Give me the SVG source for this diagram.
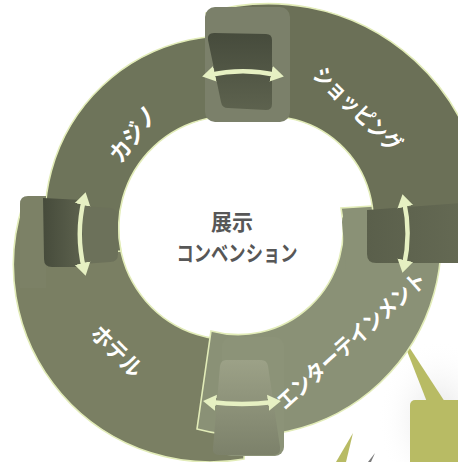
<svg xmlns="http://www.w3.org/2000/svg" width="458" height="462" viewBox="0 0 458 462">
  <defs>
    <style>
      .seg { stroke: #e2ecb8; stroke-width: 1.6; }
      .lbl { fill: #ffffff; font-family: "Noto Sans CJK JP", "Noto Sans", sans-serif; font-weight: 700; text-anchor: middle; dominant-baseline: central; }
      .ctr { fill: #575757; font-family: "Noto Sans CJK JP", "Noto Sans", sans-serif; font-weight: 700; text-anchor: middle; dominant-baseline: central; font-size: 22px; }
      .arr { fill: none; stroke: #e6f0c2; stroke-width: 4.5; marker-start: url(#ah); marker-end: url(#ah); }
      .olive { fill: #b8bb64; }
    </style>
    <marker id="ah" markerUnits="userSpaceOnUse" markerWidth="14" markerHeight="18" refX="6" refY="8" orient="auto-start-reverse" viewBox="0 0 14 16">
      <path d="M0,0 L13,8 L0,16 Z" fill="#e6f0c2"/>
    </marker>
    <linearGradient id="darkH" x1="0" y1="0" x2="1" y2="0">
      <stop offset="0" stop-color="#464b3b"/>
      <stop offset="1" stop-color="#5d624e"/>
    </linearGradient>
    <linearGradient id="darkV" x1="0" y1="0" x2="0" y2="1">
      <stop offset="0" stop-color="#464b3c"/>
      <stop offset="1" stop-color="#5d624e"/>
    </linearGradient>
    <linearGradient id="darkR" x1="0" y1="0" x2="1" y2="0">
      <stop offset="0" stop-color="#5a5f4b"/>
      <stop offset="1" stop-color="#646953"/>
    </linearGradient>
    <linearGradient id="trap" x1="0" y1="0" x2="0" y2="1">
      <stop offset="0" stop-color="#9ca187"/>
      <stop offset="1" stop-color="#7c816a"/>
    </linearGradient>
    <radialGradient id="shade" cx="0.5" cy="0.5" r="0.5">
      <stop offset="0" stop-color="#cfcfcf" stop-opacity="0.6"/>
      <stop offset="1" stop-color="#ffffff" stop-opacity="0"/>
    </radialGradient>
  </defs>
  <rect width="458" height="462" fill="#ffffff"/>

  <g id="callout">
    <ellipse cx="438" cy="420" rx="60" ry="80" fill="url(#shade)"/>
    <polygon class="olive" points="400,333 427,402 445,402"/>
    <rect class="olive" x="410" y="400" width="60" height="70" rx="5"/>
    <polygon class="olive" points="353,433 336,462 346,462"/>
    <polygon points="375,453 368,462 371,462" fill="#7a7a7a"/>
  </g>

  <g id="hotel">
    <path class="seg" d="M 244,459 A 197 197 0 0 1 23,204 L 124,193 A 112 112 0 0 0 250,338 Z" fill="#7a7f63"/>
  </g>
  <g id="entertainment">
    <path class="seg" d="M 437,202 A 194 194 0 0 1 197,429 L 211,331 A 105 105 0 0 0 341,208 Z" fill="#8a9176"/>
  </g>
  <g id="shopping">
    <path class="seg" d="M 206,13 A 216 216 0 0 1 480,265 L 371,242 A 104 104 0 0 0 239,121 Z" fill="#6b7057"/>
  </g>
  <g id="casino">
    <path class="seg" d="M 49,257 A 183 183 0 0 1 275,42 L 260,120 A 112 112 0 0 0 121,251 Z" fill="#6e745a"/>
  </g>

  <g id="junctions">
    <rect x="205" y="7" width="85" height="115" rx="10" fill="#7b806a"/>
    <path d="M 214,33 L 266,34 Q 272,34 272,40 L 272,104 Q 272,110 266,110 L 228,108 Q 222,108 221,102 L 208,40 Q 207,33 214,33 Z" fill="url(#darkV)"/>
    <path d="M 28,196 L 46,196 L 46,288 L 20,288 L 20,204 Q 20,196 28,196 Z" fill="#7c8166"/>
    <path d="M 43,198 L 83,200 L 83,267 L 52,267 Q 44,267 44,259 Z" fill="url(#darkH)"/>
    <path d="M 83,206 L 110,208 Q 118,209 118,217 L 118,254 Q 118,262 110,262 L 83,264 Z" fill="#6c715a"/>
    <path d="M 352,212 L 372,212 L 372,270 L 346,270 L 342,222 Q 342,212 352,212 Z" fill="#8a9176"/>
    <path d="M 367,210 L 460,203 L 460,263 L 376,263 Q 367,263 367,254 Z" fill="url(#darkR)"/>
    <rect x="222" y="337" width="62" height="119" rx="9" fill="#8c9378"/>
    <path d="M 226,360 L 261,360 Q 267,360 268,366 L 280,447 Q 281,455 273,455 L 219,455 Q 212,455 213,448 L 220,366 Q 221,360 226,360 Z" fill="url(#trap)"/>
  </g>

  <g id="connectors">
    <path class="arr" d="M 209,75 A 158 158 0 0 1 277,75"/>
    <path class="arr" d="M 84,199 A 150 150 0 0 0 84,269"/>
    <path class="arr" d="M 404,201 A 150 150 0 0 1 404,266"/>
    <path class="arr" d="M 274,402 A 250 250 0 0 1 210,402"/>
  </g>

  <g id="labels">
    <text class="lbl" transform="translate(132,133) rotate(-53)" style="font-size:23px" textLength="64" lengthAdjust="spacingAndGlyphs">カジノ</text>
    <text class="lbl" transform="translate(359,108) rotate(44)" style="font-size:22px" textLength="112" lengthAdjust="spacingAndGlyphs">ショッピング</text>
    <text class="lbl" transform="translate(350,339) rotate(-42)" style="font-size:22px" textLength="192" lengthAdjust="spacingAndGlyphs">エンターテインメント</text>
    <text class="lbl" transform="translate(118,350) rotate(45)" style="font-size:23px" textLength="62" lengthAdjust="spacingAndGlyphs">ホテル</text>
  </g>

  <g id="center">
    <text class="ctr" x="232" y="220" textLength="42" lengthAdjust="spacingAndGlyphs">展示</text>
    <text class="ctr" x="237" y="251" textLength="121" lengthAdjust="spacingAndGlyphs">コンベンション</text>
  </g>
</svg>
